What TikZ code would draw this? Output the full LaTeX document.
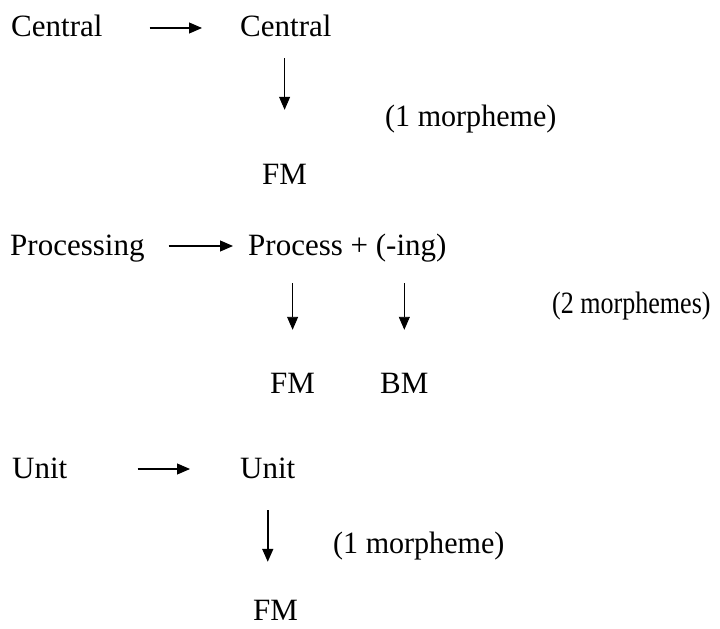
\documentclass[tikz,border=0pt]{standalone}
\usepackage{fontspec}
\setmainfont{Liberation Serif}
\usetikzlibrary{arrows.meta}
\begin{document}
\begin{tikzpicture}[x=1bp,y=-1bp,
  word/.style={anchor=base west, inner sep=0pt, text height=22bp, text depth=4bp,
    font=\fontsize{31bp}{37bp}\selectfont},
  arr/.style={line width=1.1bp, -{Triangle[length=13bp,width=11bp]}},
  varr/.style={line width=0.9bp, -{Triangle[length=13bp,width=11bp]}}]
\useasboundingbox (0,0) rectangle (720,629);

% first word: Central
\node[word] (cl)  at (11,37)  {Central};
\node[word] (cr)  at (240,37) {Central};
\node[word] (fm1) at (262,185) {FM};
\node[word] (m1)  at (385,127) {\scalebox{0.97}[1]{(1 morpheme)}};
\draw[arr] ([xshift=47bp]cl.east) -- ([xshift=-38bp]cr.west);
\draw[varr, shorten <=17bp, shorten >=53bp] (cr.south -| fm1.north) -- (fm1.north);

% second word: Processing
\node[word] (pl)  at (10,255)  {Processing};
\node[word] (pr)  at (248,255) {Process + (-ing)};
\node[word] (fm2) at (270,393) {FM};
\node[word] (bm2) at (380,393) {BM};
\node[word] (m2)  at (552,313) {\scalebox{0.84}[1]{(2 morphemes)}};
\draw[arr] ([xshift=24bp]pl.east) -- ([xshift=-15bp]pr.west);
\draw[varr, shorten <=24bp, shorten >=41bp] (pr.south -| fm2.north) -- (fm2.north);
\draw[varr, shorten <=24bp, shorten >=41bp] (pr.south -| bm2.north) -- (bm2.north);

% third word: Unit
\node[word] (ul)  at (12,478)  {Unit};
\node[word] (ur)  at (240,478) {Unit};
\node[word] (fm3) at (253,620) {FM};
\node[word] (m3)  at (333,553) {\scalebox{0.97}[1]{(1 morpheme)}};
\draw[arr] ([xshift=70bp]ul.east) -- ([xshift=-50bp]ur.west);
\draw[arr, line width=1.6bp, shorten <=28bp, shorten >=36bp] (ur.south) -- (ur.south |- fm3.north);
\end{tikzpicture}
\end{document}
